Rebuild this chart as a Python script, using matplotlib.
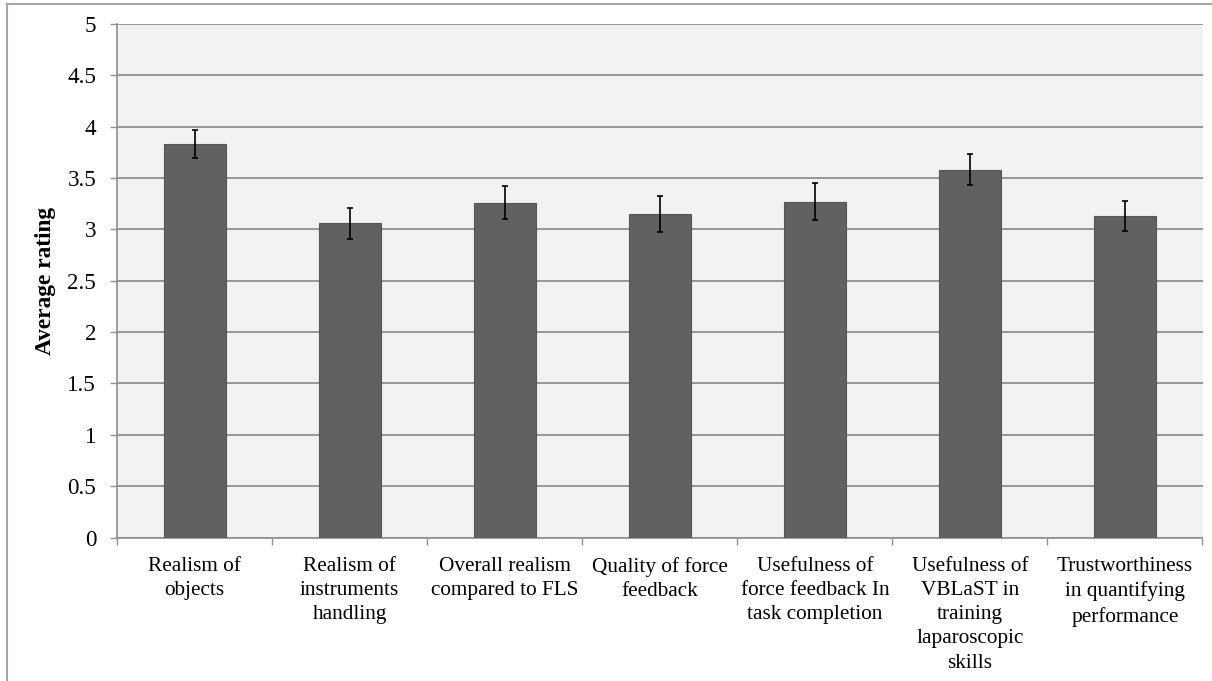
import numpy as np
import matplotlib
matplotlib.use("Agg")
import matplotlib.pyplot as plt
from matplotlib.patches import Rectangle

# data
categories = ["Realism of\nobjects",
              "Realism of\ninstruments\nhandling",
              "Overall realism\ncompared to FLS",
              "Quality of force\nfeedback",
              "Usefulness of\nforce feedback In\ntask completion",
              "Usefulness of\nVBLaST in\ntraining\nlaparoscopic\nskills",
              "Trustworthiness\nin quantifying\nperformance"]
ratings = [3.83, 3.06, 3.26, 3.15, 3.27, 3.58, 3.13]
errors = [0.135, 0.15, 0.16, 0.18, 0.18, 0.15, 0.15]
yticks = [0, 0.5, 1, 1.5, 2, 2.5, 3, 3.5, 4, 4.5, 5]

plt.rcParams['font.family'] = ['Liberation Serif', 'DejaVu Serif']

W, H = 1212, 681
fig = plt.figure(figsize=(W/100, H/100), dpi=100)
ax = fig.add_axes([117/W, (H-537.5)/H, 1085.5/W, 513.5/H])
ax.set_facecolor('#f2f2f2')

x = np.arange(len(categories))
ax.bar(x, ratings, width=0.4, color='#616161', edgecolor='#555555', linewidth=0.8, zorder=3)
ax.errorbar(x, ratings, yerr=errors, fmt='none', ecolor='black', elinewidth=1.2,
            capsize=2.5, capthick=1.2, zorder=4)

ax.set_xlim(-0.5, len(categories) - 0.5)
ax.set_ylim(0, 5)
ax.set_yticks(yticks)
ax.set_yticklabels([f"{v:g}" for v in yticks])
ax.yaxis.grid(True, color='#8f8f8f', linewidth=1.3, zorder=0)
ax.set_axisbelow(True)

ax.set_xticks(x)
ax.set_xticklabels(categories, fontsize=15.3, linespacing=1.37)
ax.set_xticks(np.arange(len(categories) + 1) - 0.5, minor=True)
ax.tick_params(axis='x', which='major', length=0, pad=14)
ax.tick_params(axis='x', which='minor', length=5, width=1, color='#8f8f8f', direction='out')
ax.tick_params(axis='y', length=5, width=1, color='#8f8f8f', labelsize=16.6, pad=10)

for s in ['top', 'right']:
    ax.spines[s].set_visible(False)
for s in ['left', 'bottom']:
    ax.spines[s].set_color('#8f8f8f')
    ax.spines[s].set_linewidth(1.2)

ax.set_ylabel("Average rating", fontsize=16.8, fontweight='bold', labelpad=8)

# outer frame of the figure (only top and left edges visible)
fig.patches.append(Rectangle((7/W, -0.2), 1.5, 1.2 - 4/H, transform=fig.transFigure,
                             fill=False, edgecolor='#a6a6a6', linewidth=1.5))

fig.savefig("out.png", dpi=100)
